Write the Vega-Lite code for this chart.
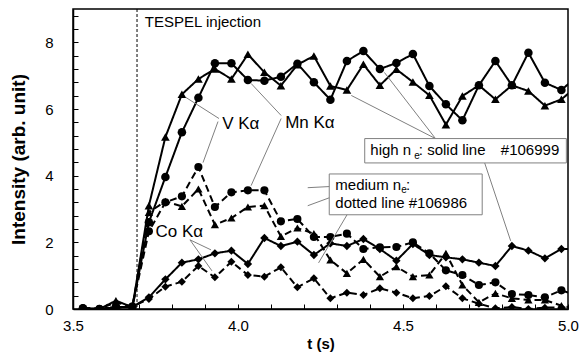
{
  "$schema": "https://vega.github.io/schema/vega-lite/v6.json",
  "width": 495,
  "height": 300,
  "autosize": "none",
  "padding": {"left": 73, "top": 9, "right": 13, "bottom": 46},
  "config": {
    "font": "Liberation Sans",
    "view": {"stroke": "#000", "strokeWidth": 1.5},
    "axis": {"grid": false, "domainColor": "#000", "domainWidth": 1.5, "tickColor": "#000", "tickWidth": 1, "labelColor": "#000", "titleColor": "#000", "labelOverlap": false, "labelFlush": false}
  },
  "resolve": {"axis": {"x": "independent", "y": "independent"}},
  "datasets": {
    "series": [
      {"t": 3.53, "hV": 0.02, "hMn": 0.02, "hCo": 0.02, "mV": 0.02, "mMn": 0.02, "mCo": 0.02},
      {"t": 3.58, "hV": 0.0, "hMn": 0.0, "hCo": 0.0, "mV": 0.0, "mMn": 0.0, "mCo": 0.0},
      {"t": 3.63, "hV": 0.25, "hMn": 0.05, "hCo": 0.05, "mV": 0.2, "mMn": 0.05, "mCo": 0.05},
      {"t": 3.68, "hV": 0.05, "hMn": 0.07, "hCo": 0.07, "mV": 0.07, "mMn": 0.07, "mCo": 0.07},
      {"t": 3.73, "hV": 3.1, "hMn": 2.6, "hCo": 0.35, "mV": 2.9, "mMn": 2.33, "mCo": 0.3},
      {"t": 3.78, "hV": 5.16, "hMn": 3.96, "hCo": 0.89, "mV": 3.23, "mMn": 3.2, "mCo": 0.67},
      {"t": 3.83, "hV": 6.44, "hMn": 5.3, "hCo": 1.39, "mV": 3.08, "mMn": 3.38, "mCo": 0.82},
      {"t": 3.88, "hV": 6.9, "hMn": 6.34, "hCo": 1.49, "mV": 3.6, "mMn": 4.26, "mCo": 1.29},
      {"t": 3.93, "hV": 7.2, "hMn": 7.37, "hCo": 1.67, "mV": 2.53, "mMn": 3.06, "mCo": 0.95},
      {"t": 3.98, "hV": 6.9, "hMn": 7.37, "hCo": 1.75, "mV": 2.73, "mMn": 3.5, "mCo": 1.42},
      {"t": 4.03, "hV": 7.64, "hMn": 6.87, "hCo": 1.35, "mV": 3.06, "mMn": 3.56, "mCo": 1.02},
      {"t": 4.08, "hV": 7.1, "hMn": 6.85, "hCo": 2.13, "mV": 3.1, "mMn": 3.56, "mCo": 0.97},
      {"t": 4.13, "hV": 6.7, "hMn": 6.97, "hCo": 1.89, "mV": 2.18, "mMn": 2.63, "mCo": 1.25},
      {"t": 4.18, "hV": 7.33, "hMn": 7.36, "hCo": 2.02, "mV": 2.43, "mMn": 2.7, "mCo": 0.65},
      {"t": 4.23, "hV": 7.59, "hMn": 6.8, "hCo": 1.62, "mV": 2.26, "mMn": 2.16, "mCo": 0.92},
      {"t": 4.28, "hV": 6.69, "hMn": 6.28, "hCo": 1.97, "mV": 1.47, "mMn": 2.16, "mCo": 0.32},
      {"t": 4.33, "hV": 6.57, "hMn": 7.44, "hCo": 1.89, "mV": 1.07, "mMn": 2.26, "mCo": 0.49},
      {"t": 4.38, "hV": 7.34, "hMn": 7.74, "hCo": 2.1, "mV": 1.49, "mMn": 1.8, "mCo": 0.42},
      {"t": 4.43, "hV": 6.71, "hMn": 7.2, "hCo": 1.8, "mV": 0.97, "mMn": 1.85, "mCo": 0.62},
      {"t": 4.48, "hV": 7.19, "hMn": 7.38, "hCo": 1.45, "mV": 1.27, "mMn": 1.86, "mCo": 0.49},
      {"t": 4.53, "hV": 6.81, "hMn": 7.65, "hCo": 1.95, "mV": 0.97, "mMn": 2.0, "mCo": 0.32},
      {"t": 4.58, "hV": 6.41, "hMn": 6.69, "hCo": 1.62, "mV": 1.02, "mMn": 1.67, "mCo": 0.39},
      {"t": 4.63, "hV": 5.53, "hMn": 6.14, "hCo": 1.55, "mV": 1.67, "mMn": 1.16, "mCo": 0.68},
      {"t": 4.68, "hV": 6.39, "hMn": 5.66, "hCo": 1.49, "mV": 0.72, "mMn": 1.02, "mCo": 0.32},
      {"t": 4.73, "hV": 6.71, "hMn": 6.71, "hCo": 1.39, "mV": 0.2, "mMn": 0.72, "mCo": 0.16},
      {"t": 4.78, "hV": 6.29, "hMn": 7.44, "hCo": 1.29, "mV": 0.47, "mMn": 0.8, "mCo": 0.02},
      {"t": 4.83, "hV": 6.71, "hMn": 6.71, "hCo": 1.89, "mV": 0.32, "mMn": 0.45, "mCo": 0.06},
      {"t": 4.88, "hV": 6.54, "hMn": 7.69, "hCo": 1.75, "mV": 0.27, "mMn": 0.42, "mCo": 0.0},
      {"t": 4.93, "hV": 6.1, "hMn": 6.79, "hCo": 1.52, "mV": 0.27, "mMn": 0.35, "mCo": 0.04},
      {"t": 4.98, "hV": 6.29, "hMn": 6.57, "hCo": 1.8, "mV": 0.1, "mMn": 0.56, "mCo": 0.05},
      {"t": 5.03, "hV": 6.7, "hMn": 7.0, "hCo": 1.8, "mV": 0.0, "mMn": 0.4, "mCo": 0.0}
    ],
    "arrows": [
      {"t": 3.9425, "v": 5.714, "t2": 3.8422, "v2": 6.346},
      {"t": 3.9394, "v": 5.624, "t2": 3.8939, "v2": 4.391},
      {"t": 4.1307, "v": 5.805, "t2": 4.0396, "v2": 6.767},
      {"t": 4.1307, "v": 5.714, "t2": 4.0396, "v2": 3.699},
      {"t": 3.8544, "v": 2.075, "t2": 3.9182, "v2": 1.774},
      {"t": 3.8544, "v": 2.075, "t2": 3.9212, "v2": 1.143},
      {"t": 4.5984, "v": 5.113, "t2": 4.3433, "v2": 6.406},
      {"t": 4.5984, "v": 5.113, "t2": 4.4435, "v2": 7.098},
      {"t": 4.7472, "v": 4.391, "t2": 4.8262, "v2": 2.045},
      {"t": 4.3844, "v": 3.729, "t2": 4.2113, "v2": 3.639},
      {"t": 4.3844, "v": 3.729, "t2": 4.2113, "v2": 3.098},
      {"t": 4.3844, "v": 3.729, "t2": 4.2441, "v2": 1.383}
    ],
    "boxes": [
      {"t": 4.384, "t2": 4.995, "v": 5.113, "v2": 4.382},
      {"t": 4.2765, "t2": 4.74, "v": 4.051, "v2": 2.827}
    ],
    "text15": [
      {"t": 3.7177, "v": 8.47, "label": "TESPEL injection"},
      {"t": 4.401, "v": 4.61, "label": "high n"},
      {"t": 4.548, "v": 4.61, "label": ": solid line"},
      {"t": 4.7965, "v": 4.61, "label": "#106999"},
      {"t": 4.295, "v": 3.579, "label": "medium n"},
      {"t": 4.509, "v": 3.579, "label": ":"},
      {"t": 4.295, "v": 3.03, "label": "dotted line #106986"}
    ],
    "sub": [
      {"t": 4.5338, "v": 4.5, "label": "e"},
      {"t": 4.4946, "v": 3.47, "label": "e"}
    ],
    "ka": [
      {"t": 3.952, "v": 5.41, "label": "V Kα"},
      {"t": 4.143, "v": 5.44, "label": "Mn Kα"},
      {"t": 3.75, "v": 2.165, "label": "Co Kα"}
    ]
  },
  "layer": [
    {
      "data": {"values": [{"t": 3.694}]},
      "mark": {"type": "rule", "color": "#000", "strokeWidth": 1, "strokeDash": [3, 2]},
      "encoding": {
        "x": {"field": "t", "type": "quantitative", "scale": {"domain": [3.5, 5.0], "nice": false, "zero": false},
          "axis": {"orient": "bottom", "values": [3.5, 4.0, 4.5, 5.0], "format": ".1f",
            "ticks": false, "labelPadding": 9, "labelFontSize": 15,
            "title": "t (s)", "titleFontSize": 15, "titleFontWeight": "bold", "titlePadding": 3}}
      }
    },
    {
      "data": {"name": "series"},
      "transform": [{"fold": ["hV", "hMn", "hCo", "mV", "mMn", "mCo"], "as": ["s", "v"]}],
      "layer": [
        {
          "mark": {"type": "line", "color": "#000", "strokeWidth": 2, "clip": true},
          "encoding": {
            "x": {"field": "t", "type": "quantitative", "axis": null},
            "y": {"field": "v", "type": "quantitative", "axis": null},
            "detail": {"field": "s"},
            "strokeDash": {"field": "s", "type": "nominal", "legend": null,
              "scale": {"domain": ["hV", "hMn", "hCo", "mV", "mMn", "mCo"], "range": [[1, 0], [1, 0], [1, 0], [7, 4], [7, 4], [7, 4]]}}
          }
        },
        {
          "mark": {"type": "point", "filled": true, "color": "#000", "opacity": 1, "clip": true},
          "encoding": {
            "x": {"field": "t", "type": "quantitative", "axis": null},
            "y": {"field": "v", "type": "quantitative", "axis": null},
            "shape": {"field": "s", "type": "nominal", "legend": null,
              "scale": {"domain": ["hV", "hMn", "hCo", "mV", "mMn", "mCo"], "range": ["triangle-up", "circle", "diamond", "triangle-up", "circle", "diamond"]}},
            "size": {"field": "s", "type": "nominal", "legend": null,
              "scale": {"domain": ["hV", "hMn", "hCo", "mV", "mMn", "mCo"], "range": [75, 64, 70, 75, 64, 70]}}
          }
        }
      ]
    },
    {
      "data": {"name": "arrows"},
      "mark": {"type": "rule", "color": "#808080", "strokeWidth": 1},
      "encoding": {
        "x": {"field": "t", "type": "quantitative", "axis": null},
        "y": {"field": "v", "type": "quantitative",
          "axis": {"orient": "left", "offset": -5, "values": [0, 0.4, 0.8, 1.2, 1.6, 2, 2.4, 2.8, 3.2, 3.6, 4, 4.4, 4.8, 5.2, 5.6, 6, 6.4, 6.8, 7.2, 7.6, 8, 8.4, 8.8],
            "ticks": true, "tickSize": 5, "labels": false, "domain": false, "title": null}},
        "x2": {"field": "t2"},
        "y2": {"field": "v2"}
      }
    },
    {
      "data": {"name": "boxes"},
      "mark": {"type": "rect", "fill": "#fff", "stroke": "#808080", "strokeWidth": 1},
      "encoding": {
        "x": {"field": "t", "type": "quantitative", "axis": null},
        "x2": {"field": "t2"},
        "y": {"field": "v", "type": "quantitative", "scale": {"domain": [0, 9], "nice": false, "zero": true},
          "axis": {"orient": "left", "values": [0, 2, 4, 6, 8], "format": "d",
            "ticks": false, "labelPadding": 20, "labelFontSize": 15,
            "title": "Intensity (arb. unit)", "titleFontSize": 19, "titleFontWeight": "bold", "titlePadding": 16}},
        "y2": {"field": "v2"}
      }
    },
    {
      "data": {"name": "text15"},
      "mark": {"type": "text", "align": "left", "baseline": "alphabetic", "fontSize": 15, "color": "#000"},
      "encoding": {
        "x": {"field": "t", "type": "quantitative",
          "axis": {"orient": "bottom", "offset": -5, "values": [3.5, 3.6, 3.7, 3.8, 3.9, 4.0, 4.1, 4.2, 4.3, 4.4, 4.5, 4.6, 4.7, 4.8, 4.9, 5.0],
            "ticks": true, "tickSize": 5, "labels": false, "domain": false, "title": null}},
        "y": {"field": "v", "type": "quantitative", "axis": null},
        "text": {"field": "label"}
      }
    },
    {
      "data": {"name": "sub"},
      "mark": {"type": "text", "align": "left", "baseline": "alphabetic", "fontSize": 10, "color": "#000"},
      "encoding": {
        "x": {"field": "t", "type": "quantitative", "axis": null},
        "y": {"field": "v", "type": "quantitative", "axis": null},
        "text": {"field": "label"}
      }
    },
    {
      "data": {"name": "ka"},
      "mark": {"type": "text", "align": "left", "baseline": "alphabetic", "fontSize": 17, "color": "#000"},
      "encoding": {
        "x": {"field": "t", "type": "quantitative", "axis": null},
        "y": {"field": "v", "type": "quantitative", "axis": null},
        "text": {"field": "label"}
      }
    }
  ]
}
